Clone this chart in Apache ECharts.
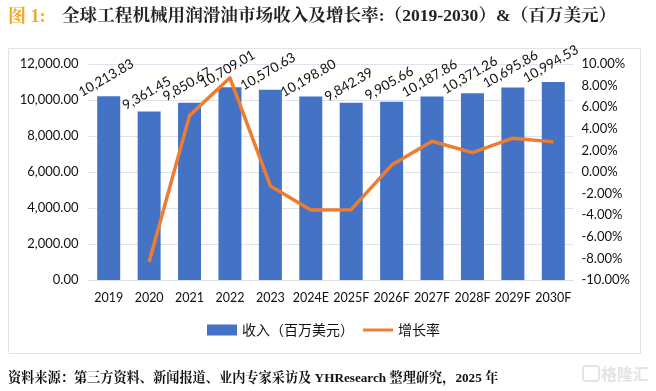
<!DOCTYPE html>
<html><head><meta charset="utf-8">
<style>html,body{margin:0;padding:0;background:#fff}#c{width:656px;height:391px}</style>
<script src="https://cdn.jsdelivr.net/npm/echarts@6/dist/echarts.min.js"></script></head>
<body><div id="c"></div>
<script>
const categories=['2019','2020','2021','2022','2023','2024E','2025F','2026F','2027F','2028F','2029F','2030F'];
const revenue=[10213.83,9361.45,9850.67,10709.01,10570.63,10198.80,9842.39,9905.66,10187.86,10371.26,10695.86,10994.53];
const growth=[null,-8.34,5.22,8.72,-1.29,-3.52,-3.49,0.64,2.85,1.80,3.13,2.79];
const barName='收入\uFF08百万美元\uFF09', lineName='增长率';
const fmt=v=>v.toLocaleString('en-US',{minimumFractionDigits:2,maximumFractionDigits:2});
const cjk='"Noto Sans CJK SC"', serif='"Liberation Serif","Noto Serif CJK SC","Noto Sans CJK SC"', num='Lato';
const chart=echarts.init(document.getElementById('c'),null,{renderer:'canvas'});
chart.setOption({
 animation:false,backgroundColor:'#fff',
 grid:{left:88.5,right:82.5,top:64,bottom:111,containLabel:false},
 legend:{top:323,left:207,itemGap:9,itemWidth:30,itemHeight:11,padding:0,
  textStyle:{fontFamily:cjk,fontSize:14,color:'#111'},
  data:[{name:barName,icon:'rect'},{name:lineName,icon:'path://M0,0L0,0ZM0,4h30v3h-30zM30,11L30,11Z'}]},
 xAxis:{type:'category',data:categories,axisTick:{show:false},
  axisLine:{lineStyle:{color:'#d9dfe8',width:1}},
  axisLabel:{interval:0,fontFamily:num,fontSize:12.5,color:'#111',margin:11}},
 yAxis:[
  {type:'value',min:0,max:12000,interval:2000,axisLine:{show:false},axisTick:{show:false},
   splitLine:{lineStyle:{color:'#dde3ee',width:1}},
   axisLabel:{formatter:v=>fmt(v),fontFamily:num,fontSize:13,color:'#111',margin:10}},
  {type:'value',min:-10,max:10,interval:2,axisLine:{show:false},axisTick:{show:false},splitLine:{show:false},
   axisLabel:{formatter:v=>v.toFixed(2)+'%',fontFamily:num,fontSize:13,color:'#111',margin:8}}
 ],
 series:[
  {name:barName,type:'bar',data:revenue,barWidth:23,itemStyle:{color:'#4472c4'},
   label:{show:true,position:'top',rotate:30,distance:0,align:'center',verticalAlign:'middle',offset:[7,-17],formatter:p=>fmt(p.value),
    fontFamily:num,fontSize:13.5,color:'#111'}},
  {name:lineName,type:'line',yAxisIndex:1,data:growth,showSymbol:false,symbol:'none',z:5,
   lineStyle:{color:'#ed7d31',width:3.5,join:'round'},itemStyle:{color:'#ed7d31'},connectNulls:false}
 ],
 graphic:[
  {type:'rect',z:-1,shape:{x:8.5,y:48.5,width:632,height:305},style:{fill:'none',stroke:'#dfe4ec',lineWidth:1}},
  {type:'text',left:8,top:8,style:{text:'图 1:',font:'bold 18px '+serif,fill:'#f5a623'}},
  {type:'text',left:62,top:8,style:{text:'全球工程机械用润滑油市场收入及增长率:\uFF082019-2030\uFF09&\uFF08百万美元\uFF09',font:'bold 17.6px '+serif,fill:'#222'}},
  {type:'text',left:8,top:372,style:{text:'资料来源\uFF1A第三方资料、新闻报道、业内专家采访及 YHResearch 整理研究\uFF0C2025 年',font:'bold 13.2px '+serif,fill:'#111'}},
  {type:'text',left:601,top:366,style:{text:'格隆汇',font:'bold 16px '+cjk,fill:'#e4e4e4'}},
  {type:'rect',shape:{x:583,y:366,width:16,height:15,r:3},style:{fill:'none',stroke:'#e4e4e4',lineWidth:2}}
 ]
});
</script></body></html>
